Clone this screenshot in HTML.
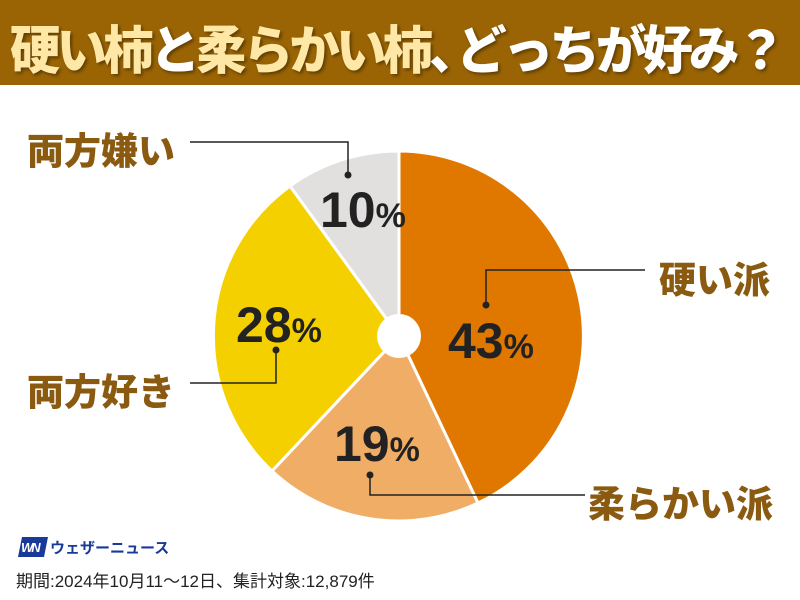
<!DOCTYPE html>
<html><head><meta charset="utf-8"><style>
body{margin:0;width:800px;height:600px;background:#fff;overflow:hidden;position:relative;font-family:"Liberation Sans","Noto Sans CJK JP",sans-serif}
.hd{position:absolute;left:0;top:0;width:800px;height:85px;background:#9a6405}
.t{position:absolute;left:10px;top:9px;font-size:52px;font-weight:900;white-space:nowrap;letter-spacing:-4px;transform:scaleX(0.97);transform-origin:left top;color:#fff;text-shadow:2px 2px 3px rgba(0,0,0,.4)}
.y{color:#ffe7a6}
.c{letter-spacing:-24px}
.lb{position:absolute;font-size:37px;font-weight:900;color:#8a5a10;white-space:nowrap}
</style></head><body>
<div class="hd"></div>
<div class="t"><span class="y">硬い柿</span>と<span class="y">柔らかい柿</span><span class="c">、</span>どっちが好み？</div>
<svg width="800" height="600" style="position:absolute;left:0;top:0">
<g stroke="#fff" stroke-width="3">
<path d="M399,336 L399,151 A185,185 0 0 1 478,503 Z" fill="#e07800"/>
<path d="M399,336 L478,503 A185,185 0 0 1 272,471 Z" fill="#f0ad66"/>
<path d="M399,336 L272,471 A185,185 0 0 1 290,186 Z" fill="#f5d000"/>
<path d="M399,336 L290,186 A185,185 0 0 1 399,151 Z" fill="#e2dfdf"/>
</g>
<circle cx="399" cy="336" r="22" fill="#fff"/>
<g fill="none" stroke="#222" stroke-width="1.5">
<polyline points="190,142 348,142 348,175"/>
<polyline points="645,270 486,270 486,305"/>
<polyline points="190,383 276,383 276,350"/>
<polyline points="585,495 370,495 370,475"/>
</g>
<g fill="#222"><circle cx="348" cy="175" r="3.5"/><circle cx="486" cy="305" r="3.5"/><circle cx="276" cy="350" r="3.5"/><circle cx="370" cy="475" r="3.5"/></g>
<g font-family="Liberation Sans,sans-serif" font-weight="bold" fill="#222" font-size="50">
<text x="320" y="227">10<tspan font-size="34">%</tspan></text>
<text x="448" y="358">43<tspan font-size="34">%</tspan></text>
<text x="236" y="342">28<tspan font-size="34">%</tspan></text>
<text x="334" y="461">19<tspan font-size="34">%</tspan></text>
</g>
<g transform="translate(18,537)">
<polygon points="4,0 30,0 26,20 0,20" fill="#1a3a9a"/>
<text x="3" y="15" font-family="Liberation Sans,sans-serif" font-weight="bold" font-style="italic" font-size="13" fill="#fff" letter-spacing="-2">WN</text>
</g>
</svg>
<div class="lb" style="left:27px;top:121px">両方嫌い</div>
<div class="lb" style="left:659px;top:250px">硬い派</div>
<div class="lb" style="left:27px;top:362px">両方好き</div>
<div class="lb" style="left:588px;top:474px">柔らかい派</div>
<div style="position:absolute;left:50px;top:537px;font-size:15px;font-weight:bold;color:#1a3a9a">ウェザーニュース</div>
<div style="position:absolute;left:16px;top:567px;font-size:17px;color:#222">期間:2024年10月11～12日、集計対象:12,879件</div>
</body></html>
